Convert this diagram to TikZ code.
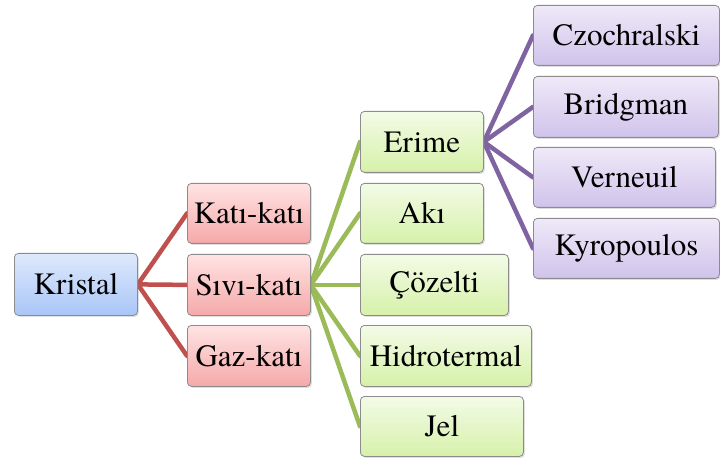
\documentclass[tikz,border=0pt]{standalone}
\usepackage{fontspec}
\newfontfamily\tnr{texgyretermes}[Extension=.otf, UprightFont=*-regular]
\usetikzlibrary{shadows}
\pgfdeclarelayer{background}
\pgfsetlayers{background,main}
\definecolor{lnred}{HTML}{C0504D}
\definecolor{lngreen}{HTML}{9BBB59}
\definecolor{lnpurple}{HTML}{8064A2}
\definecolor{bluetop}{HTML}{DEE9FC}
\definecolor{bluebot}{HTML}{A9C6F7}
\definecolor{redtop}{HTML}{FFE3E3}
\definecolor{redbot}{HTML}{F5A9A9}
\definecolor{greentop}{HTML}{F3FBE7}
\definecolor{greenbot}{HTML}{D6F1AA}
\definecolor{purpletop}{HTML}{EFE9F8}
\definecolor{purplebot}{HTML}{D0C3EB}
\definecolor{edgegray}{HTML}{8C8C8C}
\tikzset{
  box/.style={draw=edgegray, line width=0.8pt, rounded corners=4pt, anchor=north west,
    inner sep=0pt, align=center, font=\tnr\fontsize{31}{36}\selectfont,
    drop shadow={opacity=0.25, shadow xshift=1.5pt, shadow yshift=-1.5pt}},
  bluebox/.style={box, top color=bluetop, bottom color=bluebot},
  redbox/.style={box, top color=redtop, bottom color=redbot},
  greenbox/.style={box, top color=greentop, bottom color=greenbot},
  purplebox/.style={box, top color=purpletop, bottom color=purplebot},
  conn/.style={line width=4.5pt, line cap=round},
}
\begin{document}
\begin{tikzpicture}[x=1pt, y=-1pt]
\useasboundingbox (0,0) rectangle (720,462);
\node[bluebox, minimum width=123pt, minimum height=62pt] (kr) at (14,253) {Kristal};
\node[redbox, minimum width=123pt, minimum height=60pt] (kk) at (187,183) {Katı-katı};
\node[redbox, minimum width=123pt, minimum height=61pt] (sk) at (187,254) {Sıvı-katı};
\node[redbox, minimum width=123pt, minimum height=61pt] (gk) at (187,325) {Gaz-katı};
\node[greenbox, minimum width=123pt, minimum height=61pt] (er) at (360,111) {Erime};
\node[greenbox, minimum width=123pt, minimum height=60pt] (ak) at (360,183) {Akı};
\node[greenbox, minimum width=148pt, minimum height=61pt] (co) at (360,254) {Çözelti};
\node[greenbox, minimum width=171pt, minimum height=61pt] (hi) at (360,325) {Hidrotermal};
\node[greenbox, minimum width=163pt, minimum height=60pt] (je) at (360,396) {Jel};
\node[purplebox, minimum width=186pt, minimum height=60pt] (cz) at (533,5) {Czochralski};
\node[purplebox, minimum width=185pt, minimum height=61pt] (br) at (533,76) {Bridgman};
\node[purplebox, minimum width=182pt, minimum height=60pt] (ve) at (533,147) {Verneuil};
\node[purplebox, minimum width=186pt, minimum height=60pt] (ky) at (533,218) {Kyropoulos};
\begin{pgfonlayer}{background}
\foreach \c in {kk,sk,gk} \draw[conn, lnred] (kr.east) -- (\c.west);
\foreach \c in {er,ak,co,hi,je} \draw[conn, lngreen] (sk.east) -- (\c.west);
\foreach \c in {cz,br,ve,ky} \draw[conn, lnpurple] (er.east) -- (\c.west);
\end{pgfonlayer}
\end{tikzpicture}
\end{document}
